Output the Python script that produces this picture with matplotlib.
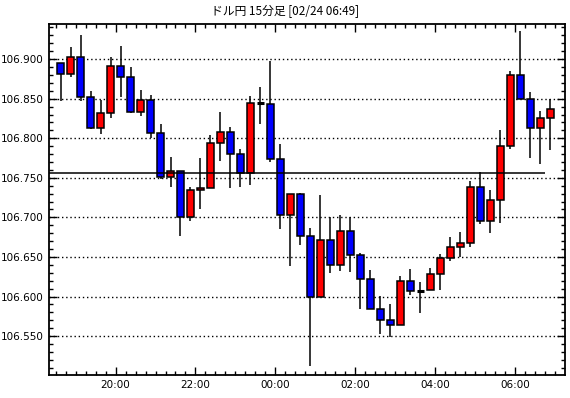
import matplotlib
matplotlib.use("Agg")
import matplotlib.pyplot as plt
import pandas as pd
from matplotlib.ticker import MultipleLocator, FixedLocator, FormatStrFormatter

plt.rcParams['font.family'] = ['Noto Sans CJK JP', 'DejaVu Sans']

# 15 minute candles, first one starts 18:30
start = "2020-02-23 18:30"
opens = [106.895, 106.881, 106.903, 106.852, 106.813, 106.832, 106.891, 106.877, 106.833, 106.848,
         106.807, 106.751, 106.758, 106.700, 106.735, 106.737, 106.794, 106.808, 106.780, 106.756,
         106.845, 106.843, 106.774, 106.703, 106.730, 106.677, 106.599, 106.671, 106.640, 106.683,
         106.653, 106.622, 106.584, 106.570, 106.564, 106.620, 106.607, 106.608, 106.628, 106.649,
         106.663, 106.668, 106.738, 106.695, 106.722, 106.790, 106.880, 106.850, 106.813, 106.826]
highs = [106.895, 106.915, 106.930, 106.860, 106.848, 106.903, 106.916, 106.890, 106.861, 106.855,
         106.818, 106.776, 106.758, 106.739, 106.775, 106.804, 106.833, 106.814, 106.786, 106.854,
         106.865, 106.898, 106.793, 106.730, 106.731, 106.687, 106.728, 106.701, 106.703, 106.700,
         106.655, 106.634, 106.601, 106.591, 106.626, 106.635, 106.619, 106.636, 106.654, 106.675,
         106.681, 106.746, 106.757, 106.734, 106.810, 106.885, 106.935, 106.858, 106.834, 106.850]
lows = [106.847, 106.877, 106.847, 106.812, 106.806, 106.825, 106.852, 106.832, 106.828, 106.800,
        106.748, 106.738, 106.676, 106.696, 106.710, 106.737, 106.771, 106.737, 106.738, 106.741,
        106.818, 106.770, 106.685, 106.638, 106.665, 106.512, 106.599, 106.630, 106.632, 106.631,
        106.584, 106.584, 106.553, 106.549, 106.564, 106.602, 106.579, 106.608, 106.608, 106.645,
        106.650, 106.662, 106.692, 106.680, 106.693, 106.787, 106.850, 106.775, 106.768, 106.785]
closes = [106.881, 106.903, 106.852, 106.813, 106.832, 106.891, 106.877, 106.833, 106.848, 106.807,
          106.751, 106.758, 106.700, 106.735, 106.737, 106.794, 106.808, 106.780, 106.756, 106.845,
          106.845, 106.774, 106.703, 106.730, 106.677, 106.599, 106.671, 106.640, 106.683, 106.652,
          106.622, 106.584, 106.570, 106.564, 106.620, 106.607, 106.607, 106.628, 106.649, 106.663,
          106.668, 106.738, 106.695, 106.722, 106.790, 106.880, 106.850, 106.813, 106.826, 106.837]
ref_price = 106.756
title = "ドル円 15分足 [02/24 06:49]"

times = pd.date_range(start, periods=len(opens), freq="15min")
x = list(range(len(opens)))

fig = plt.figure(figsize=(5.7, 3.98), dpi=100)
ax = fig.add_axes([0.0865, 0.058, 0.9047, 0.881])

for i in x:
    o, h, l, c = opens[i], highs[i], lows[i], closes[i]
    ax.vlines(i, l, h, color="black", lw=1.1, zorder=2)
    if c > o:
        col = "#ff0000"
    else:
        col = "#0000ff"
    height = abs(c - o)
    if height < 0.0008:
        # doji: just a short bar
        ax.hlines(o, i - 0.38, i + 0.38, color="black", lw=2.2, zorder=3)
    else:
        ax.bar(i, height, bottom=min(o, c), width=0.62, color=col,
               edgecolor="black", linewidth=1.1, zorder=3)

ax.hlines(ref_price, -1.2, len(opens) - 1.5, color="black", lw=1.1, zorder=4)

ax.set_xlim(-1.12, 50.45)
ax.set_ylim(106.501, 106.944)

# y axis
ax.yaxis.set_major_locator(MultipleLocator(0.05))
ax.yaxis.set_minor_locator(MultipleLocator(0.01))
ax.yaxis.set_major_formatter(FormatStrFormatter("%.3f"))
ax.grid(axis="y", which="major", color="black", linestyle=(0, (1, 2)), lw=1.0)
ax.set_axisbelow(True)

# x axis: ticks sit between candles
major = [i - 0.5 for i, t in enumerate(times) if t.minute == 0 and t.hour % 2 == 0]
labels = [times[int(p + 0.5)].strftime("%H:%M") for p in major]
ax.xaxis.set_major_locator(FixedLocator(major))
ax.set_xticklabels(labels)
ax.xaxis.set_minor_locator(FixedLocator([i - 0.5 for i in x] + [len(x) - 0.5]))

ax.tick_params(which="both", direction="in", top=True, right=True)
ax.tick_params(which="major", length=6, width=1, labelsize=7.5, pad=4)
ax.tick_params(which="minor", length=3, width=1)
for lab in ax.get_xticklabels() + ax.get_yticklabels():
    lab.set_family("DejaVu Sans")

for s in ax.spines.values():
    s.set_linewidth(1.3)

fig.text(0.5, 0.97, title, ha="center", va="center", fontsize=8.5)

fig.savefig("out.png", dpi=100, facecolor="white")
